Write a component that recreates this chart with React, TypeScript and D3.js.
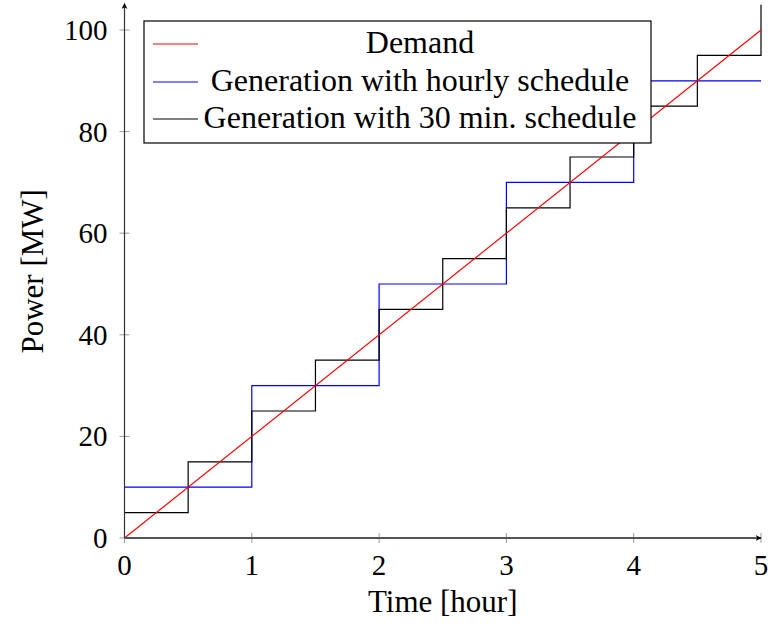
import { useEffect, useRef } from 'react';
import * as d3 from 'd3';

type Pt = { t: number; p: number };

const demandT = [0, 5];
const demandP = [0, 100];

const hourlyT = [0, 1, 2, 3, 4, 5];
const hourlyP = [10, 30, 50, 70, 90, 90];

const halfT = [0, 0.5, 1, 1.5, 2, 2.5, 3, 3.5, 4, 4.5, 5];
const halfP = [5, 15, 25, 35, 45, 55, 65, 75, 85, 95, 105];

const xTicks = [0, 1, 2, 3, 4, 5];
const yTicks = [0, 20, 40, 60, 80, 100];

const legendLabels = ['Demand', 'Generation with hourly schedule', 'Generation with 30 min. schedule'];
const legendColors = ['#ff0000', '#0000ff', '#000000'];

const toPts = (t: number[], p: number[]): Pt[] => t.map((v, i) => ({ t: v, p: p[i] }));

const FONT = '"Liberation Serif", "Times New Roman", serif';

export default function App() {
  const ref = useRef<SVGSVGElement | null>(null);

  useEffect(() => {
    if (!ref.current) return;
    const svg = d3.select(ref.current);
    svg.selectAll('*').remove();

    const width = 768;
    const height = 628;
    const margin = { top: 30, right: 7, bottom: 90, left: 124.5 };
    const x = d3.scaleLinear().domain([0, 5]).range([margin.left, width - margin.right]);
    const y = d3.scaleLinear().domain([0, 100]).range([height - margin.bottom, margin.top]);
    const yTop = y(105);

    const defs = svg.append('defs');
    defs
      .append('clipPath')
      .attr('id', 'plot-clip')
      .append('rect')
      .attr('x', x(0))
      .attr('y', yTop)
      .attr('width', x(5) - x(0) + 1)
      .attr('height', y(0) - yTop);

    const plot = svg.append('g').attr('clip-path', 'url(#plot-clip)');

    // pgfplots const plot: value holds from t until next t
    const constLine = d3
      .line<Pt>()
      .x((d) => x(d.t))
      .y((d) => y(d.p))
      .curve(d3.curveStepAfter);

    plot
      .append('path')
      .datum(toPts(hourlyT, hourlyP))
      .attr('fill', 'none')
      .attr('stroke', legendColors[1])
      .attr('stroke-width', 1.2)
      .attr('d', constLine);

    // 30 min schedule jumps up to the last value at t = 5
    const halfPts = toPts(halfT, halfP);
    const halfPath =
      constLine(halfPts.slice(0, -1)) +
      `L${x(5)},${y(halfP[halfP.length - 2])}L${x(5)},${y(halfP[halfP.length - 1])}`;
    plot
      .append('path')
      .attr('fill', 'none')
      .attr('stroke', legendColors[2])
      .attr('stroke-width', 1.2)
      .attr('d', halfPath);

    plot
      .append('path')
      .datum(toPts(demandT, demandP))
      .attr('fill', 'none')
      .attr('stroke', legendColors[0])
      .attr('stroke-width', 1.2)
      .attr('d', d3.line<Pt>().x((d) => x(d.t)).y((d) => y(d.p)));

    // ticks
    const tickColor = '#999';
    xTicks.forEach((t) => {
      svg
        .append('line')
        .attr('x1', x(t))
        .attr('x2', x(t))
        .attr('y1', y(0) - 5)
        .attr('y2', y(0) + 5)
        .attr('stroke', tickColor)
        .attr('stroke-width', 1);
      svg
        .append('text')
        .attr('x', x(t))
        .attr('y', y(0) + 37)
        .attr('text-anchor', 'middle')
        .style('font-family', FONT)
        .style('font-size', '29px')
        .text(String(t));
    });
    yTicks.forEach((v) => {
      svg
        .append('line')
        .attr('x1', x(0) - 5)
        .attr('x2', x(0) + 5)
        .attr('y1', y(v))
        .attr('y2', y(v))
        .attr('stroke', tickColor)
        .attr('stroke-width', 1);
      svg
        .append('text')
        .attr('x', x(0) - 17)
        .attr('y', y(v) + 10)
        .attr('text-anchor', 'end')
        .style('font-family', FONT)
        .style('font-size', '29px')
        .text(String(v));
    });

    // axes with arrows
    const marker = defs
      .append('marker')
      .attr('id', 'arrow')
      .attr('viewBox', '0 0 10 10')
      .attr('refX', 9)
      .attr('refY', 5)
      .attr('markerWidth', 6)
      .attr('markerHeight', 6)
      .attr('markerUnits', 'userSpaceOnUse')
      .attr('orient', 'auto');
    marker.append('path').attr('d', 'M0,0 L10,5 L0,10 L3,5 Z').attr('fill', '#000');
    svg
      .append('line')
      .attr('x1', x(0))
      .attr('x2', x(5))
      .attr('y1', y(0))
      .attr('y2', y(0))
      .attr('stroke', '#555')
      .attr('stroke-width', 1.8)
      .attr('marker-end', 'url(#arrow)');
    svg
      .append('line')
      .attr('x1', x(0))
      .attr('x2', x(0))
      .attr('y1', y(0))
      .attr('y2', yTop - 1)
      .attr('stroke', '#333')
      .attr('stroke-width', 1.2)
      .attr('marker-end', 'url(#arrow)');

    // legend
    const lg = svg.append('g').attr('transform', 'translate(144, 21)');
    lg.append('rect')
      .attr('width', 507)
      .attr('height', 122)
      .attr('fill', '#fff')
      .attr('stroke', '#000')
      .attr('stroke-width', 1.2);
    legendLabels.forEach((label, i) => {
      const cy = Math.round(23 + i * 37.5);
      lg.append('line')
        .attr('x1', 9)
        .attr('x2', 54)
        .attr('y1', cy)
        .attr('y2', cy)
        .attr('stroke', legendColors[i])
        .attr('stroke-width', 1.2);
      lg.append('text')
        .attr('x', 276)
        .attr('y', cy + 9)
        .attr('text-anchor', 'middle')
        .style('font-family', FONT)
        .style('font-size', '32px')
        .text(label);
    });

    // axis titles
    svg
      .append('text')
      .attr('x', (x(0) + x(5)) / 2)
      .attr('y', 612)
      .attr('text-anchor', 'middle')
      .style('font-family', FONT)
      .style('font-size', '31px')
      .text('Time [hour]');
    svg
      .append('text')
      .attr('transform', `translate(43, ${(y(0) + yTop) / 2}) rotate(-90)`)
      .attr('text-anchor', 'middle')
      .style('font-family', FONT)
      .style('font-size', '31px')
      .text('Power [MW]');
  }, []);

  return (
    <div style={{ position: 'absolute', left: 0, top: 0 }}>
      <svg ref={ref} width={768} height={628} style={{ display: 'block' }} />
    </div>
  );
}
